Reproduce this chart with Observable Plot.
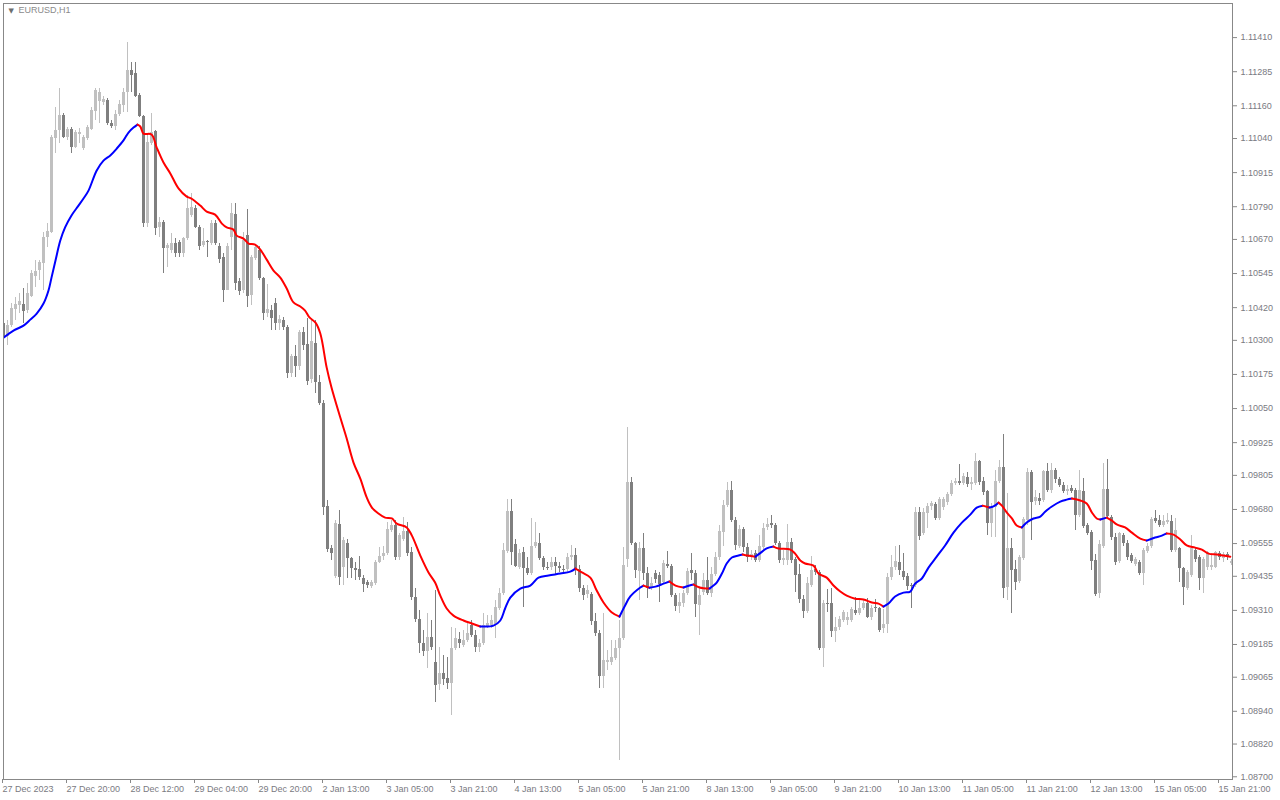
<!DOCTYPE html>
<html><head><meta charset="utf-8">
<script src="https://cdn.jsdelivr.net/npm/d3@7"></script>
<script src="https://cdn.jsdelivr.net/npm/@observablehq/plot@0.6"></script>
<style>html,body{margin:0;padding:0;background:#fff;overflow:hidden}</style>
</head><body><div id="chart"></div>
<script>
const symbol = "EURUSD,H1";

const open = [
1.10362,1.10314,1.10354,1.10413,1.10428,1.10431,1.10409,1.10461,1.10534,1.10556,
1.10582,1.10677,1.10695,1.11040,1.11069,1.11124,1.11044,1.11073,1.11007,1.11055,
1.11003,1.11040,1.11073,1.11139,1.11176,1.11172,1.11179,1.11095,1.11084,1.11128,
1.11161,1.11209,1.11289,1.11278,1.11198,1.11121,1.10728,1.11022,1.11066,1.10714,
1.10732,1.10637,1.10629,1.10655,1.10659,1.10618,1.10673,1.10758,1.10783,1.10714,
1.10648,1.10662,1.10655,1.10728,1.10644,1.10604,1.10483,1.10677,1.10761,1.10516,
1.10483,1.10684,1.10464,1.10600,1.10629,1.10527,1.10398,1.10409,1.10435,1.10362,
1.10373,1.10347,1.10178,1.10241,1.10204,1.10329,1.10285,1.10156,1.10288,1.10145,
1.10068,1.09691,1.09537,1.09434,1.09625,1.09467,1.09555,1.09500,1.09463,1.09460,
1.09427,1.09412,1.09397,1.09408,1.09485,1.09507,1.09518,1.09603,1.09621,1.09504,
1.09570,1.09599,1.09522,1.09357,1.09276,1.09188,1.09159,1.09210,1.09119,1.09038,
1.09078,1.09060,1.09042,1.09170,1.09203,1.09181,1.09199,1.09254,1.09218,1.09174,
1.09188,1.09251,1.09254,1.09258,1.09317,1.09372,1.09526,1.09672,1.09551,1.09467,
1.09522,1.09463,1.09445,1.09544,1.09555,1.09500,1.09467,1.09467,1.09485,1.09471,
1.09460,1.09460,1.09504,1.09511,1.09460,1.09390,1.09368,1.09368,1.09269,1.09225,
1.09067,1.09119,1.09119,1.09133,1.09170,1.09207,1.09496,1.09779,1.09555,1.09452,
1.09537,1.09445,1.09390,1.09445,1.09438,1.09412,1.09478,1.09471,1.09364,1.09324,
1.09335,1.09372,1.09456,1.09445,1.09328,1.09375,1.09419,1.09372,1.09441,1.09504,
1.09595,1.09694,1.09749,1.09639,1.09544,1.09606,1.09540,1.09504,1.09518,1.09493,
1.09540,1.09614,1.09628,1.09621,1.09555,1.09493,1.09493,1.09559,1.09496,1.09441,
1.09350,1.09306,1.09401,1.09460,1.09449,1.09170,1.09335,1.09335,1.09232,1.09247,
1.09273,1.09273,1.09273,1.09309,1.09298,1.09317,1.09335,1.09284,1.09320,1.09317,
1.09243,1.09258,1.09430,1.09467,1.09485,1.09452,1.09434,1.09401,1.09401,1.09669,
1.09592,1.09665,1.09691,1.09698,1.09647,1.09687,1.09705,1.09735,1.09775,1.09782,
1.09775,1.09797,1.09771,1.09775,1.09856,1.09782,1.09746,1.09628,1.09687,1.09782,
1.09834,1.09394,1.09537,1.09460,1.09416,1.09500,1.09639,1.09815,1.09709,1.09720,
1.09713,1.09819,1.09749,1.09823,1.09790,1.09768,1.09746,1.09757,1.09749,1.09658,
1.09746,1.09621,1.09595,1.09493,1.09372,1.09544,1.09753,1.09650,1.09577,1.09489,
1.09584,1.09555,1.09511,1.09478,1.09485,1.09445,1.09526,1.09544,1.09647,1.09639,
1.09621,1.09632,1.09636,1.09529,1.09537,1.09463,1.09390,1.09438,1.09529,1.09504,
1.09427,1.09467,1.09467,1.09467,1.09518,1.09500,1.09515,1.09482];

const high = [
1.10369,1.10373,1.10435,1.10457,1.10472,1.10490,1.10508,1.10556,1.10593,1.10593,
1.10695,1.10728,1.11051,1.11154,1.11223,1.11132,1.11080,1.11080,1.11069,1.11077,
1.11051,1.11088,1.11154,1.11223,1.11223,1.11194,1.11187,1.11106,1.11143,1.11179,
1.11223,1.11392,1.11319,1.11319,1.11205,1.11124,1.11058,1.11132,1.11069,1.10750,
1.10739,1.10655,1.10692,1.10673,1.10666,1.10677,1.10831,1.10838,1.10794,1.10721,
1.10710,1.10666,1.10739,1.10739,1.10655,1.10618,1.10655,1.10802,1.10802,1.10527,
1.10695,1.10780,1.10611,1.10648,1.10644,1.10530,1.10505,1.10428,1.10453,1.10391,
1.10384,1.10354,1.10248,1.10281,1.10336,1.10347,1.10380,1.10373,1.10373,1.10171,
1.10079,1.09713,1.09548,1.09639,1.09676,1.09577,1.09570,1.09504,1.09485,1.09507,
1.09438,1.09419,1.09419,1.09493,1.09540,1.09544,1.09632,1.09639,1.09639,1.09592,
1.09650,1.09632,1.09540,1.09390,1.09309,1.09236,1.09298,1.09273,1.09383,1.09174,
1.09144,1.09137,1.09247,1.09243,1.09229,1.09236,1.09265,1.09273,1.09236,1.09203,
1.09298,1.09291,1.09291,1.09346,1.09390,1.09555,1.09716,1.09716,1.09570,1.09533,
1.09540,1.09504,1.09647,1.09632,1.09592,1.09507,1.09485,1.09504,1.09504,1.09485,
1.09474,1.09518,1.09548,1.09537,1.09474,1.09401,1.09401,1.09375,1.09298,1.09236,
1.09298,1.09163,1.09199,1.09199,1.09273,1.09540,1.09980,1.09797,1.09559,1.09559,
1.09592,1.09467,1.09430,1.09456,1.09449,1.09493,1.09526,1.09478,1.09372,1.09372,
1.09383,1.09463,1.09518,1.09456,1.09397,1.09445,1.09504,1.09467,1.09522,1.09621,
1.09713,1.09779,1.09782,1.09650,1.09621,1.09614,1.09555,1.09529,1.09529,1.09584,
1.09628,1.09647,1.09658,1.09628,1.09562,1.09529,1.09625,1.09573,1.09504,1.09478,
1.09364,1.09430,1.09507,1.09474,1.09456,1.09346,1.09386,1.09390,1.09284,1.09287,
1.09309,1.09302,1.09320,1.09357,1.09353,1.09350,1.09353,1.09328,1.09350,1.09320,
1.09313,1.09445,1.09511,1.09544,1.09548,1.09518,1.09445,1.09408,1.09687,1.09687,
1.09683,1.09702,1.09709,1.09705,1.09724,1.09724,1.09742,1.09786,1.09793,1.09845,
1.09812,1.09815,1.09797,1.09885,1.09859,1.09797,1.09749,1.09702,1.09823,1.09859,
1.09955,1.09738,1.09573,1.09493,1.09511,1.09650,1.09830,1.09823,1.09749,1.09738,
1.09823,1.09848,1.09848,1.09830,1.09797,1.09779,1.09768,1.09768,1.09757,1.09823,
1.09793,1.09628,1.09603,1.09515,1.09566,1.09848,1.09863,1.09658,1.09592,1.09595,
1.09592,1.09566,1.09518,1.09504,1.09493,1.09537,1.09555,1.09650,1.09676,1.09658,
1.09658,1.09665,1.09658,1.09647,1.09540,1.09467,1.09456,1.09584,1.09537,1.09511,
1.09504,1.09526,1.09518,1.09526,1.09526,1.09522,1.09522,1.09496];

const low = [
1.10281,1.10281,1.10347,1.10373,1.10398,1.10362,1.10398,1.10457,1.10494,1.10519,
1.10483,1.10640,1.10692,1.10985,1.11022,1.11040,1.11033,1.10985,1.11003,1.11022,
1.10996,1.11033,1.11069,1.11106,1.11095,1.11161,1.11088,1.11077,1.11069,1.11121,
1.11135,1.11135,1.11209,1.11190,1.11117,1.10714,1.10714,1.11014,1.10684,1.10677,
1.10545,1.10567,1.10618,1.10604,1.10604,1.10604,1.10666,1.10750,1.10710,1.10629,
1.10640,1.10604,1.10648,1.10648,1.10582,1.10439,1.10483,1.10629,1.10483,1.10464,
1.10472,1.10420,1.10428,1.10593,1.10519,1.10373,1.10384,1.10336,1.10336,1.10336,
1.10336,1.10160,1.10164,1.10164,1.10189,1.10263,1.10134,1.10142,1.10105,1.10061,
1.09658,1.09522,1.09493,1.09427,1.09401,1.09401,1.09427,1.09427,1.09419,1.09419,
1.09375,1.09390,1.09390,1.09401,1.09482,1.09493,1.09511,1.09595,1.09493,1.09493,
1.09562,1.09507,1.09346,1.09265,1.09152,1.09141,1.09097,1.09163,1.08972,1.09016,
1.09034,1.09020,1.08924,1.09163,1.09170,1.09174,1.09192,1.09210,1.09155,1.09155,
1.09181,1.09243,1.09243,1.09207,1.09309,1.09364,1.09518,1.09474,1.09467,1.09460,
1.09320,1.09438,1.09438,1.09537,1.09493,1.09456,1.09456,1.09456,1.09438,1.09449,
1.09449,1.09449,1.09493,1.09438,1.09375,1.09346,1.09353,1.09254,1.09214,1.09023,
1.09023,1.09089,1.09108,1.09126,1.08759,1.09199,1.09467,1.09548,1.09427,1.09346,
1.09419,1.09353,1.09383,1.09408,1.09339,1.09405,1.09463,1.09357,1.09306,1.09298,
1.09320,1.09364,1.09419,1.09284,1.09218,1.09364,1.09364,1.09357,1.09434,1.09493,
1.09544,1.09687,1.09632,1.09529,1.09537,1.09522,1.09485,1.09493,1.09485,1.09485,
1.09529,1.09603,1.09610,1.09548,1.09482,1.09474,1.09474,1.09482,1.09375,1.09335,
1.09280,1.09298,1.09394,1.09438,1.09163,1.09100,1.09302,1.09210,1.09192,1.09236,
1.09265,1.09254,1.09265,1.09291,1.09291,1.09309,1.09280,1.09273,1.09302,1.09229,
1.09225,1.09225,1.09419,1.09456,1.09438,1.09419,1.09383,1.09317,1.09394,1.09566,
1.09584,1.09610,1.09676,1.09639,1.09639,1.09676,1.09694,1.09727,1.09768,1.09768,
1.09768,1.09760,1.09749,1.09768,1.09768,1.09731,1.09584,1.09577,1.09577,1.09775,
1.09353,1.09346,1.09298,1.09383,1.09408,1.09493,1.09621,1.09566,1.09694,1.09694,
1.09705,1.09742,1.09738,1.09775,1.09760,1.09738,1.09731,1.09738,1.09603,1.09650,
1.09610,1.09584,1.09456,1.09361,1.09353,1.09537,1.09647,1.09566,1.09474,1.09482,
1.09544,1.09493,1.09482,1.09471,1.09438,1.09401,1.09518,1.09537,1.09628,1.09614,
1.09614,1.09625,1.09522,1.09522,1.09412,1.09328,1.09383,1.09430,1.09485,1.09383,
1.09372,1.09456,1.09456,1.09463,1.09493,1.09485,1.09493,1.09474];

const close = [
1.10310,1.10354,1.10417,1.10431,1.10442,1.10406,1.10472,1.10545,1.10552,1.10585,
1.10677,1.10699,1.11044,1.11069,1.11124,1.11044,1.11073,1.11007,1.11062,1.11062,
1.11044,1.11080,1.11143,1.11216,1.11209,1.11183,1.11095,1.11084,1.11128,1.11165,
1.11209,1.11289,1.11271,1.11194,1.11121,1.10728,1.11025,1.11062,1.10710,1.10732,
1.10637,1.10648,1.10655,1.10618,1.10618,1.10673,1.10783,1.10787,1.10714,1.10644,
1.10662,1.10659,1.10728,1.10655,1.10596,1.10483,1.10644,1.10765,1.10508,1.10479,
1.10666,1.10461,1.10604,1.10640,1.10527,1.10398,1.10413,1.10380,1.10362,1.10376,
1.10347,1.10178,1.10241,1.10204,1.10329,1.10281,1.10149,1.10296,1.10145,1.10068,
1.09687,1.09533,1.09518,1.09628,1.09430,1.09566,1.09500,1.09463,1.09456,1.09430,
1.09405,1.09401,1.09412,1.09485,1.09507,1.09518,1.09606,1.09621,1.09504,1.09584,
1.09599,1.09518,1.09357,1.09276,1.09188,1.09159,1.09210,1.09174,1.09034,1.09078,
1.09056,1.09042,1.09170,1.09207,1.09188,1.09199,1.09225,1.09218,1.09174,1.09188,
1.09254,1.09262,1.09273,1.09320,1.09372,1.09529,1.09672,1.09522,1.09471,1.09518,
1.09463,1.09445,1.09544,1.09559,1.09500,1.09467,1.09463,1.09485,1.09471,1.09463,
1.09456,1.09504,1.09511,1.09460,1.09390,1.09364,1.09383,1.09269,1.09225,1.09067,
1.09126,1.09126,1.09137,1.09170,1.09207,1.09474,1.09779,1.09555,1.09456,1.09537,
1.09445,1.09390,1.09408,1.09423,1.09405,1.09482,1.09471,1.09364,1.09324,1.09339,
1.09372,1.09452,1.09445,1.09331,1.09364,1.09419,1.09372,1.09441,1.09504,1.09599,
1.09694,1.09749,1.09639,1.09548,1.09606,1.09540,1.09504,1.09515,1.09493,1.09544,
1.09610,1.09625,1.09621,1.09555,1.09493,1.09500,1.09559,1.09493,1.09438,1.09350,
1.09306,1.09408,1.09456,1.09449,1.09170,1.09335,1.09331,1.09232,1.09247,1.09276,
1.09302,1.09284,1.09313,1.09298,1.09317,1.09335,1.09284,1.09317,1.09317,1.09236,
1.09258,1.09430,1.09467,1.09489,1.09456,1.09430,1.09397,1.09397,1.09669,1.09581,
1.09669,1.09691,1.09702,1.09647,1.09716,1.09716,1.09735,1.09775,1.09782,1.09775,
1.09801,1.09771,1.09779,1.09856,1.09779,1.09742,1.09628,1.09687,1.09782,1.09834,
1.09390,1.09537,1.09456,1.09412,1.09504,1.09643,1.09815,1.09705,1.09724,1.09709,
1.09819,1.09749,1.09823,1.09790,1.09768,1.09746,1.09753,1.09746,1.09658,1.09749,
1.09617,1.09592,1.09489,1.09368,1.09551,1.09753,1.09654,1.09577,1.09485,1.09592,
1.09555,1.09504,1.09489,1.09496,1.09445,1.09529,1.09544,1.09643,1.09636,1.09621,
1.09636,1.09639,1.09529,1.09603,1.09463,1.09394,1.09449,1.09537,1.09496,1.09427,
1.09496,1.09522,1.09474,1.09522,1.09504,1.09515,1.09504,1.09489];

// Smoothed moving average (bar position, price)
const maBar = [0,2.5,5,6.7,8.3,10,11.25,12,13,14.2,15.4,17,18.75,20,21.25,23.3,25,26.7,28.3,30,31.25,32.5,33.5,
34.2,35,37,38.3,40,41.7,43.75,45.8,47,49.2,50.8,52.9,54.6,55.8,57.5,58.3,60,61.25,62.9,64.2,65.8,67.5,69.2,70.8,72.5,74.2,75.4,76.5,78,79.2,80.8,82,84.2,85.8,87.5,89.2,90.8,92.1,93.75,95.4,97.1,98.3,100.8,102.1,104.2,106.25,107.9,109.2,110.8,112.5,115,117.1,119.2,
122.5,124.2,125.4,126.7,129.2,131.7,133.75,136.25,139.2,141.7,143,
144.6,146.7,148.3,150,152.1,154,
155.4,156.7,159.2,160,161.5,163,165,166.5,168,170,171.5,172.5,174,176.5,
177.5,178.3,179.6,180.8,182.1,183.75,184.8,186,188,189,190.8,192.5,
193.75,196.7,197.9,199.2,200.4,202.5,203.75,205.8,207.5,209.2,210.8,212.9,215,217.1,218.75,220,
221.25,222.9,225,226.7,227.9,229.6,231.25,233.3,235.4,237.5,239.6,241.7,243.3,244.8,
246.5,247.5,248.75,249.6,250.8,252.1,253.3,254.6,
255.8,257.5,259.2,260.4,262.1,264.2,265.8,267.1,
269.2,270.8,272.1,273.3,274.2,275.8,277.1,278.3,280.4,282.1,284.2,285.8,
287.9,289.6,290.8,292.5,294.2,295.8,297.9,299.6,301.25,303.3,305,306.7];
const maValue = [1.10310,1.10336,1.10354,1.10376,1.10398,1.10435,1.10483,1.10530,1.10593,1.10666,1.10714,1.10758,1.10794,1.10820,1.10849,1.10923,1.10959,1.10978,1.11003,1.11033,1.11062,1.11080,1.11091,
1.11084,1.11058,1.11055,1.11007,1.10952,1.10912,1.10857,1.10827,1.10820,1.10794,1.10772,1.10761,1.10728,1.10714,1.10706,1.10684,1.10673,1.10655,1.10651,1.10633,1.10596,1.10556,1.10530,1.10490,1.10439,1.10424,1.10409,1.10384,1.10365,1.10325,1.10200,1.10127,1.10017,1.09940,1.09852,1.09793,1.09724,1.09687,1.09665,1.09650,1.09647,1.09628,1.09614,1.09584,1.09511,1.09449,1.09412,1.09364,1.09317,1.09291,1.09273,1.09262,1.09251,
1.09254,1.09273,1.09317,1.09357,1.09390,1.09401,1.09430,1.09438,1.09445,1.09452,1.09463,
1.09449,1.09430,1.09383,1.09339,1.09302,1.09287,
1.09328,1.09361,1.09394,1.09401,1.09393,1.09397,1.09408,1.09416,1.09401,1.09394,1.09401,1.09405,1.09394,1.09390,
1.09401,1.09412,1.09445,1.09482,1.09504,1.09511,1.09515,1.09511,1.09507,1.09518,1.09537,1.09544,
1.09537,1.09533,1.09518,1.09493,1.09482,1.09474,1.09445,1.09430,1.09401,1.09379,1.09364,1.09353,1.09350,1.09339,1.09335,1.09324,
1.09335,1.09361,1.09375,1.09379,1.09408,1.09427,1.09467,1.09507,1.09548,1.09595,1.09632,1.09661,1.09687,1.09694,
1.09687,1.09691,1.09705,1.09694,1.09669,1.09647,1.09621,1.09614,
1.09632,1.09647,1.09654,1.09672,1.09691,1.09709,1.09716,1.09720,
1.09713,1.09702,1.09669,1.09647,1.09643,1.09650,1.09639,1.09625,1.09614,1.09595,1.09573,1.09566,
1.09577,1.09584,1.09592,1.09588,1.09570,1.09548,1.09540,1.09533,1.09518,1.09515,1.09511,1.09507];

const xTickBars = [0,16,32,48,64,80,96,112,128,144,160,176,192,208,224,240,256,272,288,304];
const xTickLabels = ["27 Dec 2023","27 Dec 20:00","28 Dec 12:00","29 Dec 04:00","29 Dec 20:00","2 Jan 13:00","3 Jan 05:00","3 Jan 21:00","4 Jan 13:00","5 Jan 05:00","5 Jan 21:00","8 Jan 13:00","9 Jan 05:00","9 Jan 21:00","10 Jan 13:00","11 Jan 05:00","11 Jan 21:00","12 Jan 13:00","15 Jan 05:00","15 Jan 21:00"];
const yTicks = [1.11410,1.11285,1.11160,1.11040,1.10915,1.10790,1.10670,1.10545,1.10420,1.10300,1.10175,1.10050,1.09925,1.09805,1.09680,1.09555,1.09435,1.09310,1.09185,1.09065,1.08940,1.08820,1.08700];

const bullColor = "#c0c0c0", bearColor = "#7f7f7f";
const upColor = "#0000ff", downColor = "#ff0000";
const axisColor = "#888888", textColor = "#7a7a82";

const n = Math.min(open.length, high.length, low.length, close.length);
const bars = d3.range(n).map(i => ({
  i, o: open[i], h: high[i], l: low[i], c: close[i],
  col: close[i] >= open[i] ? bullColor : bearColor
}));

// split moving average into rising (blue) / falling (red) pieces
const maRows = [];
let seg = 0, prevDir = null;
for (let k = 0; k < maBar.length - 1; k++) {
  const dir = maValue[k + 1] >= maValue[k] ? "up" : "down";
  if (dir !== prevDir) { seg++; maRows.push({i: maBar[k], v: maValue[k], seg, col: dir === "up" ? upColor : downColor}); prevDir = dir; }
  maRows.push({i: maBar[k + 1], v: maValue[k + 1], seg, col: dir === "up" ? upColor : downColor});
}

const chart = Plot.plot({
  width: 1280, height: 800,
  marginLeft: 3, marginRight: 48, marginTop: 3, marginBottom: 21,
  style: {fontFamily: "'Liberation Sans', Arial, sans-serif", fontSize: "9px", background: "#ffffff"},
  x: {domain: [0, 307.25], axis: null, label: null},
  y: {domain: [1.08690, 1.11535], axis: null, label: null},
  color: {type: "identity"},
  marks: [
    Plot.ruleX(bars, {x: "i", y1: "l", y2: "h", stroke: "col", strokeWidth: 1, shapeRendering: "crispEdges", clip: true}),
    Plot.ruleX(bars, {x: "i", y1: "o", y2: "c", stroke: "col", strokeWidth: 3, shapeRendering: "crispEdges", clip: true}),
    Plot.line(maRows, {x: "i", y: "v", z: "seg", stroke: "col", strokeWidth: 2, curve: "catmull-rom", clip: true}),
    Plot.frame({stroke: axisColor}),
    Plot.axisY(yTicks, {anchor: "right", label: null, tickSize: 4, tickPadding: 4, tickFormat: d3.format(".5f"), stroke: axisColor, fill: textColor}),
    Plot.axisX(xTickBars, {anchor: "bottom", label: null, tickSize: 4, tickPadding: 2, textAnchor: "start", dx: -1,
      tickFormat: d => xTickLabels[xTickBars.indexOf(d)], stroke: axisColor, fill: textColor}),
    Plot.text(["\u25BC"], {frameAnchor: "top-left", dx: 5, dy: 5, textAnchor: "start", lineAnchor: "top", fontSize: 7, fontFamily: "DejaVu Sans", fill: "#6e6e6e"}),
    Plot.text([symbol], {frameAnchor: "top-left", dx: 15, dy: 3, textAnchor: "start", lineAnchor: "top", fontSize: 9, fill: "#8a8a8a"})
  ]
});
document.getElementById("chart").appendChild(chart);
</script>
</body></html>
